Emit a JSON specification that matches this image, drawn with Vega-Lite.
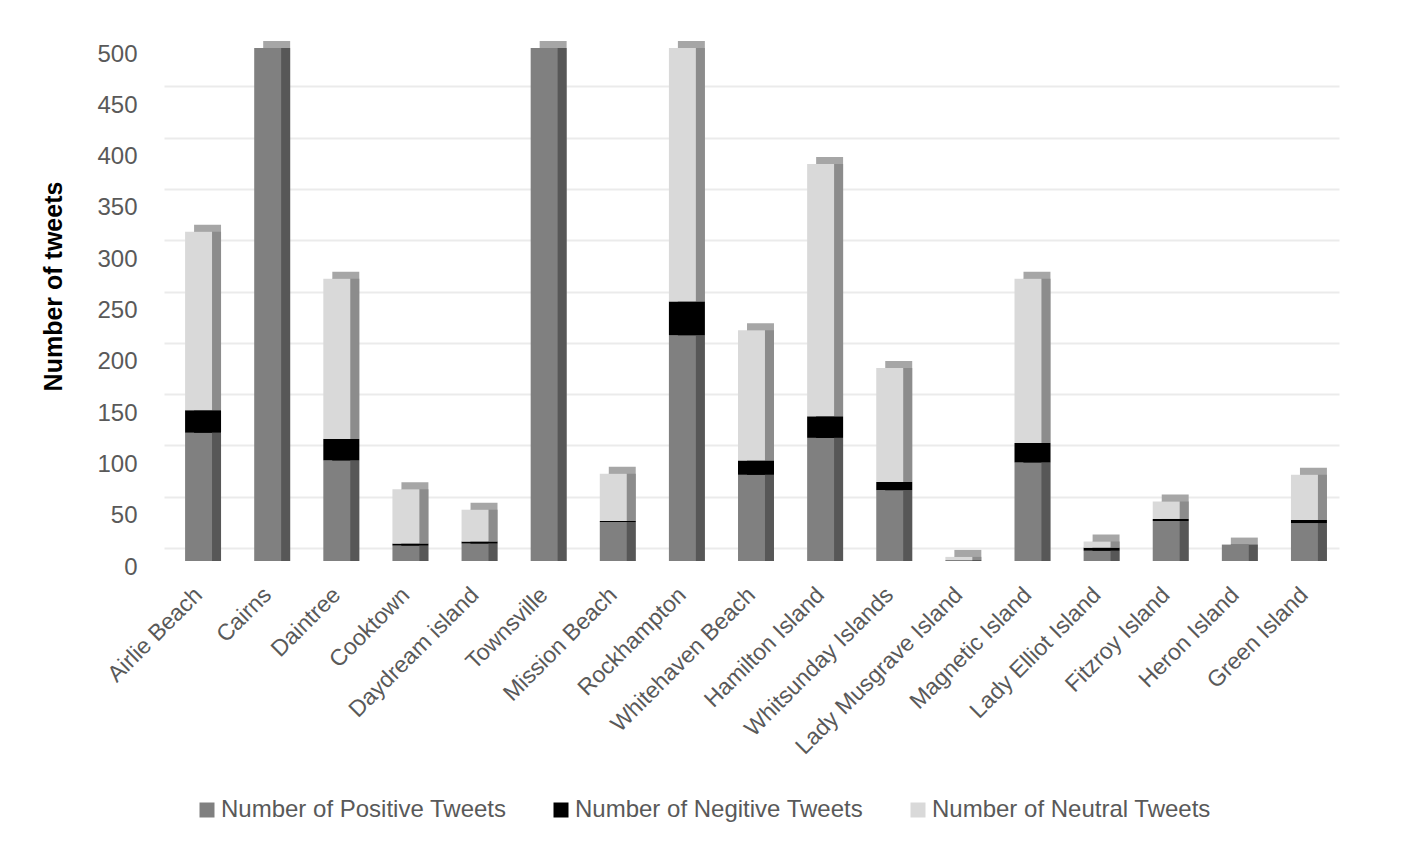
{
  "$schema": "https://vega.github.io/schema/vega-lite/v6.json",
  "width": 1175,
  "height": 513,
  "autosize": "none",
  "padding": {"left": 164, "top": 48, "right": 70, "bottom": 285},
  "background": "white",
  "config": {"font": "Liberation Sans", "view": {"stroke": null}},
  "datasets": {
    "tweets": [
      {"place": "Airlie Beach", "type": "Number of Positive Tweets", "k": 1, "count": 125},
      {"place": "Airlie Beach", "type": "Number of Negitive Tweets", "k": 2, "count": 22},
      {"place": "Airlie Beach", "type": "Number of Neutral Tweets", "k": 3, "count": 174},
      {"place": "Cairns", "type": "Number of Positive Tweets", "k": 1, "count": 500},
      {"place": "Cairns", "type": "Number of Negitive Tweets", "k": 2, "count": 0},
      {"place": "Cairns", "type": "Number of Neutral Tweets", "k": 3, "count": 0},
      {"place": "Daintree", "type": "Number of Positive Tweets", "k": 1, "count": 98},
      {"place": "Daintree", "type": "Number of Negitive Tweets", "k": 2, "count": 21},
      {"place": "Daintree", "type": "Number of Neutral Tweets", "k": 3, "count": 156},
      {"place": "Cooktown", "type": "Number of Positive Tweets", "k": 1, "count": 15},
      {"place": "Cooktown", "type": "Number of Negitive Tweets", "k": 2, "count": 2},
      {"place": "Cooktown", "type": "Number of Neutral Tweets", "k": 3, "count": 53},
      {"place": "Daydream island", "type": "Number of Positive Tweets", "k": 1, "count": 17},
      {"place": "Daydream island", "type": "Number of Negitive Tweets", "k": 2, "count": 2},
      {"place": "Daydream island", "type": "Number of Neutral Tweets", "k": 3, "count": 31},
      {"place": "Townsville", "type": "Number of Positive Tweets", "k": 1, "count": 500},
      {"place": "Townsville", "type": "Number of Negitive Tweets", "k": 2, "count": 0},
      {"place": "Townsville", "type": "Number of Neutral Tweets", "k": 3, "count": 0},
      {"place": "Mission Beach", "type": "Number of Positive Tweets", "k": 1, "count": 38},
      {"place": "Mission Beach", "type": "Number of Negitive Tweets", "k": 2, "count": 1},
      {"place": "Mission Beach", "type": "Number of Neutral Tweets", "k": 3, "count": 46},
      {"place": "Rockhampton", "type": "Number of Positive Tweets", "k": 1, "count": 220},
      {"place": "Rockhampton", "type": "Number of Negitive Tweets", "k": 2, "count": 33},
      {"place": "Rockhampton", "type": "Number of Neutral Tweets", "k": 3, "count": 247},
      {"place": "Whitehaven Beach", "type": "Number of Positive Tweets", "k": 1, "count": 84},
      {"place": "Whitehaven Beach", "type": "Number of Negitive Tweets", "k": 2, "count": 14},
      {"place": "Whitehaven Beach", "type": "Number of Neutral Tweets", "k": 3, "count": 127},
      {"place": "Hamilton Island", "type": "Number of Positive Tweets", "k": 1, "count": 120},
      {"place": "Hamilton Island", "type": "Number of Negitive Tweets", "k": 2, "count": 21},
      {"place": "Hamilton Island", "type": "Number of Neutral Tweets", "k": 3, "count": 246},
      {"place": "Whitsunday Islands", "type": "Number of Positive Tweets", "k": 1, "count": 69},
      {"place": "Whitsunday Islands", "type": "Number of Negitive Tweets", "k": 2, "count": 8},
      {"place": "Whitsunday Islands", "type": "Number of Neutral Tweets", "k": 3, "count": 111},
      {"place": "Lady Musgrave Island", "type": "Number of Positive Tweets", "k": 1, "count": 1},
      {"place": "Lady Musgrave Island", "type": "Number of Negitive Tweets", "k": 2, "count": 0},
      {"place": "Lady Musgrave Island", "type": "Number of Neutral Tweets", "k": 3, "count": 3},
      {"place": "Magnetic Island", "type": "Number of Positive Tweets", "k": 1, "count": 96},
      {"place": "Magnetic Island", "type": "Number of Negitive Tweets", "k": 2, "count": 19},
      {"place": "Magnetic Island", "type": "Number of Neutral Tweets", "k": 3, "count": 160},
      {"place": "Lady Elliot Island", "type": "Number of Positive Tweets", "k": 1, "count": 10},
      {"place": "Lady Elliot Island", "type": "Number of Negitive Tweets", "k": 2, "count": 3},
      {"place": "Lady Elliot Island", "type": "Number of Neutral Tweets", "k": 3, "count": 6},
      {"place": "Fitzroy Island", "type": "Number of Positive Tweets", "k": 1, "count": 39},
      {"place": "Fitzroy Island", "type": "Number of Negitive Tweets", "k": 2, "count": 2},
      {"place": "Fitzroy Island", "type": "Number of Neutral Tweets", "k": 3, "count": 17},
      {"place": "Heron Island", "type": "Number of Positive Tweets", "k": 1, "count": 16},
      {"place": "Heron Island", "type": "Number of Negitive Tweets", "k": 2, "count": 0},
      {"place": "Heron Island", "type": "Number of Neutral Tweets", "k": 3, "count": 0},
      {"place": "Green Island", "type": "Number of Positive Tweets", "k": 1, "count": 37},
      {"place": "Green Island", "type": "Number of Negitive Tweets", "k": 2, "count": 3},
      {"place": "Green Island", "type": "Number of Neutral Tweets", "k": 3, "count": 44}
    ]
  },
  "data": {"name": "tweets"},
  "encoding": {
    "x": {
      "field": "place",
      "type": "nominal",
      "sort": null,
      "scale": {"paddingInner": 0.61, "paddingOuter": 0.305},
      "axis": {
        "title": null,
        "labelAngle": -45,
        "labelAlign": "right",
        "labelBaseline": "middle",
        "labelFontSize": 23,
        "labelColor": "#595959",
        "ticks": false,
        "domain": false,
        "labelPadding": 30,
        "labelLimit": 500
      }
    }
  },
  "layer": [
    {
      "mark": {"type": "bar", "opacity": 0},
      "encoding": {
        "y": {
          "field": "count",
          "type": "quantitative",
          "stack": "zero",
          "scale": {"domain": [-12.67, 487.33], "nice": false, "zero": false},
          "axis": {
            "orient": "right",
            "title": null,
            "labels": false,
            "ticks": false,
            "domain": false,
            "grid": true,
            "gridColor": "#ebebeb",
            "gridWidth": 2,
            "values": [0, 50, 100, 150, 200, 250, 300, 350, 400, 450, 500]
          }
        }
      }
    },
    {
      "layer": [
        {
          "mark": {"type": "bar", "xOffset": 9, "yOffset": -7, "color": "#a6a6a6"},
          "encoding": {
            "y": {
              "aggregate": "sum",
              "field": "count",
              "type": "quantitative",
              "scale": {"domain": [0, 500], "nice": false},
              "axis": {
                "title": "Number of tweets",
                "titleFontSize": 25,
                "titleFontWeight": "bold",
                "titleColor": "#000000",
                "titleAngle": 270,
                "titleAlign": "center",
                "titleBaseline": "middle",
                "titleX": -111,
                "titleY": 238,
                "labelFontSize": 24,
                "labelColor": "#595959",
                "labelPadding": 27,
                "labelOffset": 6,
                "ticks": false,
                "domain": false,
                "grid": false,
                "values": [0, 50, 100, 150, 200, 250, 300, 350, 400, 450, 500]
              }
            }
          }
        },
        {
          "mark": {"type": "bar", "xOffset": 9},
          "encoding": {
            "y": {
              "field": "count",
              "type": "quantitative",
              "stack": "zero",
              "scale": {"domain": [0, 500], "nice": false},
              "axis": {
                "title": "Number of tweets",
                "titleFontSize": 25,
                "titleFontWeight": "bold",
                "titleColor": "#000000",
                "titleAngle": 270,
                "titleAlign": "center",
                "titleBaseline": "middle",
                "titleX": -111,
                "titleY": 238,
                "labelFontSize": 24,
                "labelColor": "#595959",
                "labelPadding": 27,
                "labelOffset": 6,
                "ticks": false,
                "domain": false,
                "grid": false,
                "values": [0, 50, 100, 150, 200, 250, 300, 350, 400, 450, 500]
              }
            },
            "order": {"field": "k", "type": "quantitative"},
            "color": {
              "field": "type",
              "type": "nominal",
              "scale": {
                "domain": ["Number of Positive Tweets", "Number of Negitive Tweets", "Number of Neutral Tweets"],
                "range": ["#575757", "#000000", "#8c8c8c"]
              },
              "legend": null
            }
          }
        },
        {
          "mark": {"type": "bar"},
          "encoding": {
            "y": {
              "field": "count",
              "type": "quantitative",
              "stack": "zero",
              "scale": {"domain": [0, 500], "nice": false},
              "axis": {
                "title": "Number of tweets",
                "titleFontSize": 25,
                "titleFontWeight": "bold",
                "titleColor": "#000000",
                "titleAngle": 270,
                "titleAlign": "center",
                "titleBaseline": "middle",
                "titleX": -111,
                "titleY": 238,
                "labelFontSize": 24,
                "labelColor": "#595959",
                "labelPadding": 27,
                "labelOffset": 6,
                "ticks": false,
                "domain": false,
                "grid": false,
                "values": [0, 50, 100, 150, 200, 250, 300, 350, 400, 450, 500]
              }
            },
            "order": {"field": "k", "type": "quantitative"},
            "color": {
              "field": "type",
              "type": "nominal",
              "scale": {
                "domain": ["Number of Positive Tweets", "Number of Negitive Tweets", "Number of Neutral Tweets"],
                "range": ["#808080", "#000000", "#d9d9d9"]
              },
              "legend": {
                "title": null,
                "orient": "none",
                "direction": "horizontal",
                "legendX": 31,
                "legendY": 750,
                "symbolType": "square",
                "symbolSize": 225,
                "symbolStrokeWidth": 0,
                "labelFontSize": 24,
                "labelColor": "#595959",
                "labelOffset": 2,
                "labelLimit": 500,
                "columnPadding": 42
              }
            }
          }
        }
      ],
      "resolve": {"scale": {"color": "independent"}}
    }
  ],
  "resolve": {"scale": {"y": "independent"}}
}
